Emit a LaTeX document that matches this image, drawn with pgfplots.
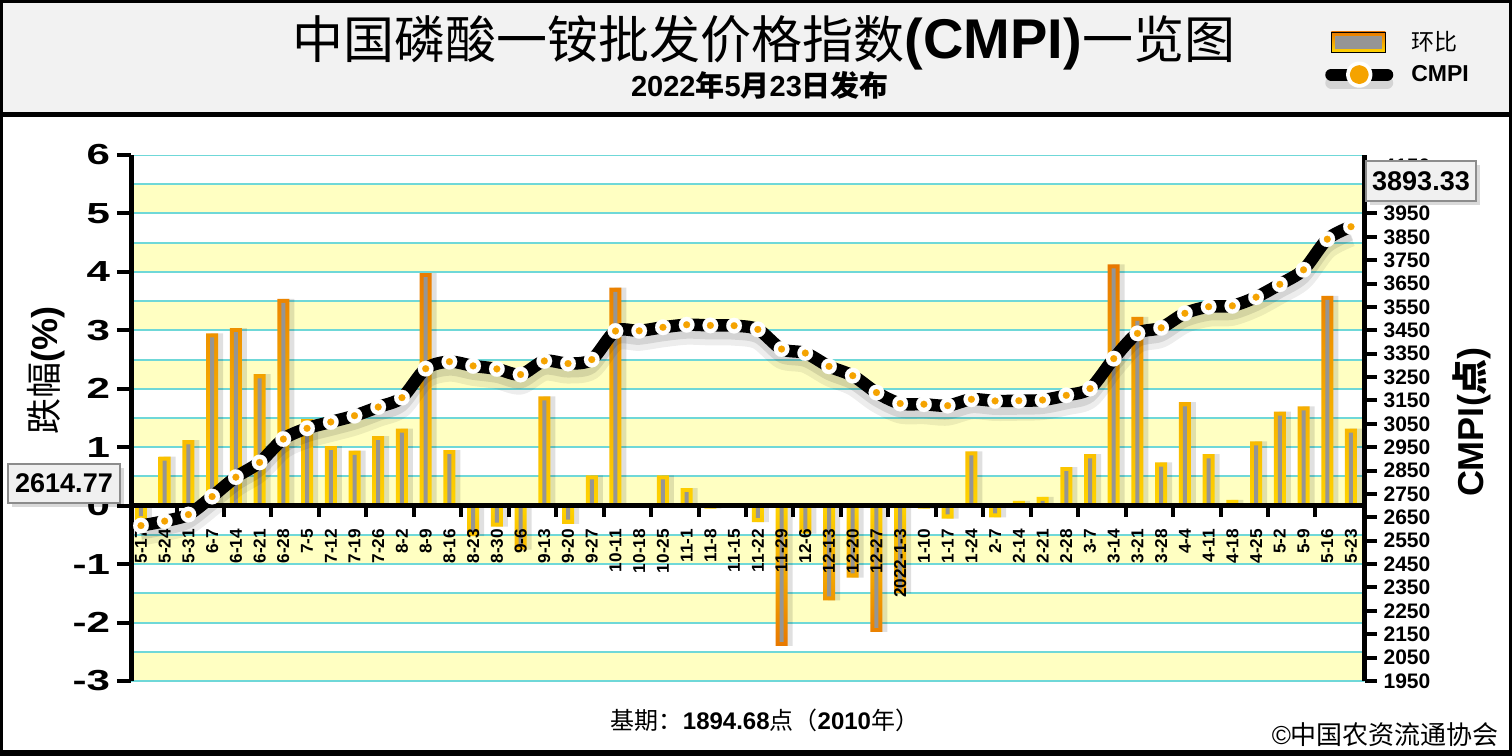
\documentclass[border=0pt]{standalone}
\usepackage{fontspec}
\usepackage{pgfplots}
\pgfplotsset{compat=1.18}
\usepackage{pgfplotstable}
\setmainfont{Liberation Sans}
\newfontfamily\lat{Liberation Sans}
\newfontfamily\cjk{Noto Sans CJK SC}
\newfontfamily\wide{Liberation Sans}[FakeStretch=1.45]
\definecolor{band}{HTML}{FFFFC2}
\definecolor{gridc}{HTML}{6FD8D8}
\definecolor{barO}{HTML}{E87800}
\definecolor{barY}{HTML}{FFD400}
\definecolor{barG}{HTML}{959595}
\definecolor{dotO}{HTML}{F5A300}
\definecolor{hdr}{HTML}{F2F2F2}
\definecolor{boxf}{HTML}{F0F0F0}

\pgfplotstableread{
x v c
0 -0.25 2614.77
1 0.84 2634
2 1.12 2662
3 2.95 2739
4 3.04 2822
5 2.25 2885
6 3.54 2985
7 1.48 3031
8 1.02 3058
9 0.94 3085
10 1.19 3122
11 1.32 3162
12 3.98 3286
13 0.95 3316
14 -0.52 3298
15 -0.36 3285
16 -0.75 3261
17 1.87 3319
18 -0.31 3308
19 0.52 3325
20 3.73 3447
21 0.01 3448
22 0.52 3463
23 0.30 3474
24 -0.05 3471
25 -0.03 3470
26 -0.28 3454
27 -2.40 3370
28 -0.48 3353
29 -1.62 3296
30 -1.23 3256
31 -2.16 3184
32 -1.50 3137
33 -0.05 3134
34 -0.22 3128
35 0.93 3155
36 -0.20 3148
37 0.08 3149
38 0.15 3152
39 0.66 3172
40 0.88 3201
41 4.13 3329
42 3.23 3437
43 0.74 3461
44 1.77 3523
45 0.88 3551
46 0.10 3555
47 1.10 3592
48 1.61 3647
49 1.70 3709
50 3.59 3840
51 1.32 3893.33
}\data

\begin{document}
\begin{tikzpicture}
\path[use as bounding box] (0,0) rectangle (756pt,-378pt);
\begin{scope}[x=0.5pt,y=-0.5pt]
\fill[white] (0,0) rectangle (1512,756);
\fill[hdr] (0,0) rectangle (1512,113);
\fill[black] (0,112) rectangle (1512,117);
\fill[black] (0,0) rectangle (1512,3);
\fill[black] (0,0) rectangle (3,756);
\fill[black] (1509,0) rectangle (1512,756);
\fill[black] (0,750) rectangle (1512,756);
\end{scope}

\begin{axis}[
  at={(65.5pt,-340.5pt)}, anchor=south west, scale only axis,
  width=616.75pt, height=263pt,
  xmin=-0.42, xmax=51.57, ymin=-3, ymax=6,
  axis on top,
  axis y line*=left, axis x line*=middle,
  axis line style={line width=2.5pt, black},
  xtick={0,...,51},
  xticklabels={5-17,5-24,5-31,6-7,6-14,6-21,6-28,7-5,7-12,7-19,7-26,8-2,8-9,8-16,8-23,8-30,9-6,9-13,9-20,9-27,10-11,10-18,10-25,11-1,11-8,11-15,11-22,11-29,12-6,12-13,12-20,12-27,2022-1-3,1-10,1-17,1-24,2-7,2-14,2-21,2-28,3-7,3-14,3-21,3-28,4-4,4-11,4-18,4-25,5-2,5-9,5-16,5-23},
  xticklabel style={yshift=-4.5pt, rotate=90, anchor=east, inner sep=0pt, font=\bfseries\fontsize{8.6}{9}\selectfont},
  hide obscured x ticks=false,
  xtick style={draw=none},
  extra x ticks={1.5,3.5,...,49.5},
  extra x tick labels={},
  extra x tick style={xtick style={draw=black, line width=2pt}, major tick length=5.5pt, tick align=outside},
  ytick={-3,...,6},
  yticklabels={-3,-2,-1,0,1,2,3,4,5,6},
  yticklabel style={font=\wide\bfseries\fontsize{14.5}{15}\selectfont},
  ytick style={line width=2pt, black},
  major tick length=7pt, tick align=outside,
]
\fill[band] (axis cs:-0.42,-3) rectangle (axis cs:51.57,-2.5);
\fill[band] (axis cs:-0.42,-2) rectangle (axis cs:51.57,-1.5);
\fill[band] (axis cs:-0.42,-1) rectangle (axis cs:51.57,-0.5);
\fill[band] (axis cs:-0.42,0) rectangle (axis cs:51.57,0.5);
\fill[band] (axis cs:-0.42,1) rectangle (axis cs:51.57,1.5);
\fill[band] (axis cs:-0.42,2) rectangle (axis cs:51.57,2.5);
\fill[band] (axis cs:-0.42,3) rectangle (axis cs:51.57,3.5);
\fill[band] (axis cs:-0.42,4) rectangle (axis cs:51.57,4.5);
\fill[band] (axis cs:-0.42,5) rectangle (axis cs:51.57,5.5);
\pgfplotsinvokeforeach{-3,-2.5,...,6}{\draw[gridc, line width=1pt] (axis cs:-0.42,#1) -- (axis cs:51.57,#1);}
% shadows
\addplot[ybar, bar width=6pt, bar shift=2.5pt, fill=black, opacity=0.12, draw=none, forget plot] table[x=x,y=v]{\data};
% outer bars
\addplot[ybar, bar width=6pt, bar shift=0pt, draw=none, top color=barO, bottom color=barY, restrict y to domain=0:10, forget plot] table[x=x,y=v]{\data};
\addplot[ybar, bar width=6pt, bar shift=0pt, draw=none, top color=barY, bottom color=barO, restrict y to domain=-10:0, forget plot] table[x=x,y=v]{\data};
% inner gray
\addplot[ybar, bar width=2pt, bar shift=0pt, draw=none, fill=barG, restrict y to domain=0.0001:10, forget plot] table[x=x,y expr={max(\thisrow{v}-0.07,0)}]{\data};
\addplot[ybar, bar width=2pt, bar shift=0pt, draw=none, fill=barG, restrict y to domain=-10:-0.0001, forget plot] table[x=x,y expr={min(\thisrow{v}+0.07,0)}]{\data};
\end{axis}

\begin{axis}[
  at={(65.5pt,-340.5pt)}, anchor=south west, scale only axis,
  width=616.75pt, height=263pt,
  xmin=-0.42, xmax=51.57, ymin=1950, ymax=4200,
  hide x axis,
  axis y line*=right,
  axis line style={line width=2.5pt, black},
  ytick={1950,2050,...,4150},
  yticklabels={1950,2050,2150,2250,2350,2450,2550,2650,2750,2850,2950,3050,3150,3250,3350,3450,3550,3650,3750,3850,3950,4050,4150},
  yticklabel style={font=\bfseries\fontsize{10.5}{11}\selectfont},
  ytick style={line width=2pt, black},
  major tick length=6pt, tick align=outside,
  legend style={at={(axis description cs:0.963,1.252)}, anchor=north west, draw=none, fill=none,
    font=\fontsize{11.5}{12}\selectfont, row sep=2pt,
    /tikz/every odd column/.append style={column sep=7pt}},
  legend cell align=left,
]
\addlegendimage{legend image code/.code={
  \fill[top color=barO, bottom color=barY] (0pt,-5pt) rectangle (27pt,5pt);
  \fill[barG] (2pt,-3pt) rectangle (25pt,3pt);}}
\addlegendentry{\cjk 环比}
\addplot[black, opacity=0.07, line width=10pt, smooth, tension=0.5, yshift=-5pt, forget plot] table[x=x,y=c]{\data};
\addplot[black, opacity=0.10, line width=6pt, smooth, tension=0.5, yshift=-4pt, forget plot] table[x=x,y=c]{\data};
\addplot[black, line width=6.2pt, smooth, tension=0.5, line join=round, line cap=round, no marks,
  legend image code/.code={
    \draw[black, opacity=0.12, line width=6pt] (0pt,-4pt) -- (28pt,-4pt);
    \draw[black, line width=6pt] (0pt,0pt) -- (28pt,0pt);
    \fill[white] (14pt,0pt) circle (3.5pt);
    \fill[dotO] (14pt,0pt) circle (1.6pt);}
  ] table[x=x,y=c]{\data};
\addlegendentry{\bfseries CMPI}
\addplot[only marks, mark=*, mark size=3.9pt, mark options={fill=white, draw=white, line width=0.1pt}, forget plot] table[x=x,y=c]{\data};
\addplot[only marks, mark=*, mark size=1.7pt, mark options={fill=dotO, draw=dotO, line width=0.1pt}, forget plot] table[x=x,y=c]{\data};
\end{axis}

\begin{scope}[x=0.5pt,y=-0.5pt]
\node at (764,43) {\cjk\fontsize{25.5}{26}\selectfont 中国磷酸一铵批发价格指数{\lat\bfseries\fontsize{28}{28}\selectfont(CMPI)}一览图};
\node at (760,85) {\fontsize{14.5}{15}\selectfont\bfseries 2022{\cjk 年}5{\cjk 月}23{\cjk 日发布}};
\node[rotate=90] at (46,370) {\fontsize{18}{18}\selectfont{\cjk 跌幅}\bfseries(\%)};
\node[rotate=90] at (1472,422) {\fontsize{18}{18}\selectfont\bfseries CMPI({\cjk 点})};
% value boxes
\fill[black, opacity=0.15] (12,468) rectangle (124,507);
\draw[fill=boxf, draw=black!45, line width=0.75pt] (8,464) rectangle (120,503);
\node at (64,483.5) {\bfseries\fontsize{13.5}{14}\selectfont 2614.77};
\fill[black, opacity=0.15] (1370,165) rectangle (1480,205);
\draw[fill=boxf, draw=black!45, line width=0.75pt] (1366,161) rectangle (1476,201);
\node at (1421,181) {\bfseries\fontsize{13.5}{14}\selectfont 3893.33};
% footer
\node at (765,720) {\fontsize{12}{12}\selectfont{\cjk 基期：}\bfseries 1894.68{\cjk\mdseries 点（}2010{\cjk\mdseries 年）}};
\node[anchor=east] at (1506,735) {\fontsize{13}{13}\selectfont ©{\cjk 中国农资流通协会}};
\end{scope}
\end{tikzpicture}
\end{document}
